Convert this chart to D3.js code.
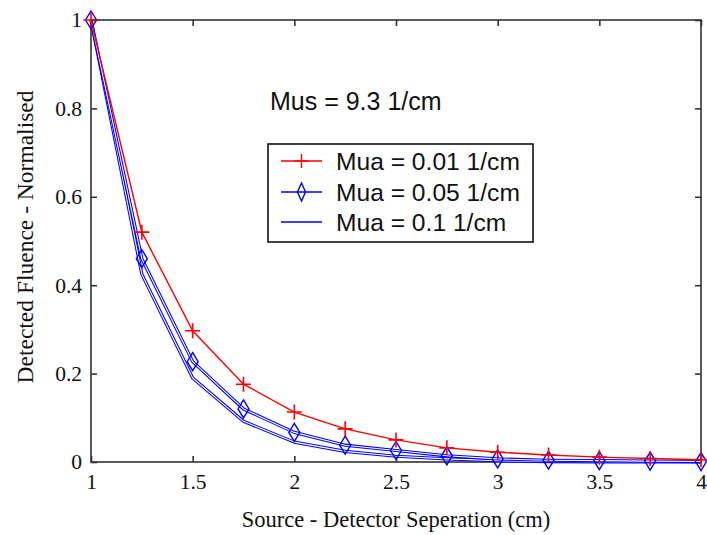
<!DOCTYPE html>
<html><head><meta charset="utf-8">
<script src="https://cdn.jsdelivr.net/npm/d3@7/dist/d3.min.js"></script>
<style>body{margin:0;background:#fff}svg{display:block}</style>
</head><body>
<svg id="c" width="707" height="535"></svg>
<script>
const xs = [1,1.25,1.5,1.75,2,2.25,2.5,2.75,3,3.25,3.5,3.75,4];
const mua001 = [1,0.52,0.297,0.176,0.113,0.075,0.050,0.032,0.022,0.016,0.011,0.008,0.005];
const mua005 = [1,0.46,0.227,0.12,0.067,0.038,0.026,0.014,0.007,0.004,0.003,0.002,0.001];
const mua01  = [1,0.425,0.19,0.092,0.045,0.024,0.013,0.007,0.003,0.001,0.0005,0.0002,0.0001];
const xTicks = [1,1.5,2,2.5,3,3.5,4];
const yTicks = [0,0.2,0.4,0.6,0.8,1];
const legendLabels = ["Mua = 0.01 1/cm","Mua = 0.05 1/cm","Mua = 0.1 1/cm"];
const annotation = "Mus = 9.3 1/cm";

const svg = d3.select("#c");
const L=91, R=701, T=20, B=462;
const x = d3.scaleLinear().domain([1,4]).range([L,R]);
const y = d3.scaleLinear().domain([0,1]).range([B,T]);
const axCol = "#333";
const serif = "'Liberation Serif','Times New Roman',serif";
const sans = "'Liberation Sans',Arial,sans-serif";

// box
svg.append("rect").attr("x",L).attr("y",T).attr("width",R-L).attr("height",B-T)
  .attr("fill","none").attr("stroke",axCol).attr("stroke-width",1.6);

// axes with inward ticks
const xb = svg.append("g").attr("transform",`translate(0,${B})`)
  .call(d3.axisBottom(x).tickValues(xTicks).tickSize(-6).tickPadding(12).tickFormat(d3.format("")));
const xt = svg.append("g").attr("transform",`translate(0,${T})`)
  .call(d3.axisTop(x).tickValues(xTicks).tickSize(-6).tickFormat(""));
const yl = svg.append("g").attr("transform",`translate(${L},0)`)
  .call(d3.axisLeft(y).tickValues(yTicks).tickSize(-6).tickPadding(9).tickFormat(d3.format("")));
const yr = svg.append("g").attr("transform",`translate(${R},0)`)
  .call(d3.axisRight(y).tickValues(yTicks).tickSize(-6).tickFormat(""));
[xb,xt,yl,yr].forEach(g=>{
  g.select(".domain").remove();
  g.selectAll(".tick line").attr("stroke",axCol).attr("stroke-width",1.6);
  g.selectAll(".tick text").attr("fill","#111").style("font-family",serif).style("font-size","21.5px");
});
xb.selectAll(".tick text").attr("dy","0.71em");

// lines
const line = d3.line().x((d,i)=>x(xs[i])).y(d=>y(d));
function outlineLine(data,col){
  svg.append("path").datum(data).attr("d",line).attr("fill","none")
    .attr("stroke",col).attr("stroke-width",3.2).attr("stroke-linejoin","round");
  svg.append("path").datum(data).attr("d",line).attr("fill","none")
    .attr("stroke","#fff").attr("stroke-width",1.1).attr("stroke-linejoin","round");
}
outlineLine(mua01,"#0000ff");
outlineLine(mua005,"#0000ff");
svg.append("path").datum(mua001).attr("d",line).attr("fill","none")
  .attr("stroke","#ff0000").attr("stroke-width",1.4);

// markers
const diamond = (cx,cy,w,h)=>`M${cx},${cy-h}L${cx+w},${cy}L${cx},${cy+h}L${cx-w},${cy}Z`;
svg.append("g").selectAll("path").data(mua005).join("path")
  .attr("d",(d,i)=>diamond(x(xs[i]),y(d),5.5,9))
  .attr("fill","none").attr("stroke","#0000ff").attr("stroke-width",1.4);
const plus = (cx,cy,s)=>`M${cx-s},${cy}H${cx+s}M${cx},${cy-s}V${cy+s}`;
svg.append("g").selectAll("path").data(mua001).join("path")
  .attr("d",(d,i)=>plus(x(xs[i]),y(d),7.5))
  .attr("fill","none").attr("stroke","#ff0000").attr("stroke-width",1.6);

// annotation
svg.append("text").attr("x",270).attr("y",110).text(annotation)
  .style("font-family",sans).style("font-size","25px").attr("fill","#111");

// legend
const lg = svg.append("g");
lg.append("rect").attr("x",268).attr("y",144).attr("width",265).attr("height",98)
  .attr("fill","#fff").attr("stroke","#111").attr("stroke-width",1.6);
const rowY = [161,192,222];
legendLabels.forEach((lab,i)=>{
  const cy = rowY[i];
  lg.append("line").attr("x1",281).attr("x2",322).attr("y1",cy).attr("y2",cy)
    .attr("stroke", i===0?"#ff0000":"#0000ff").attr("stroke-width",1.4);
  if(i===0) lg.append("path").attr("d",plus(301.5,cy,7)).attr("stroke","#ff0000").attr("stroke-width",1.4);
  if(i===1) lg.append("path").attr("d",diamond(301.5,cy,4,9)).attr("fill","none").attr("stroke","#0000ff").attr("stroke-width",1.4);
  lg.append("text").attr("x",336).attr("y",cy+8.5).text(lab)
    .style("font-family",sans).style("font-size","24.6px").attr("fill","#111");
});

// axis labels
svg.append("text").attr("x",(L+R)/2).attr("y",527).attr("text-anchor","middle")
  .text("Source - Detector Seperation (cm)").style("font-family",serif).style("font-size","22.5px").attr("fill","#111");
svg.append("text").attr("transform",`translate(33,${237}) rotate(-90)`).attr("text-anchor","middle")
  .text("Detected Fluence - Normalised").style("font-family",serif).style("font-size","23.5px").attr("fill","#111");
</script>
</body></html>
